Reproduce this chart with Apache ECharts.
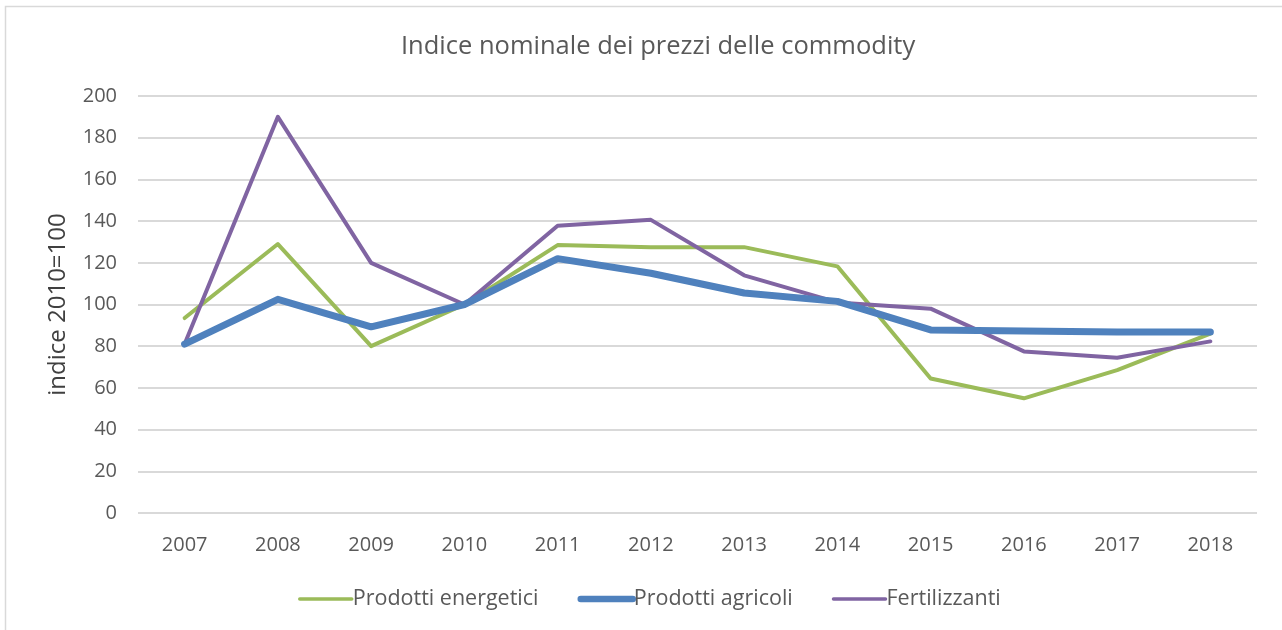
<!DOCTYPE html>
<html>
<head>
<meta charset="utf-8">
<script src="https://cdn.jsdelivr.net/npm/echarts@6/dist/echarts.min.js"></script>
<style>
  html, body { margin: 0; padding: 0; background: #fff; }
  #chart { width: 1282px; height: 630px; }
</style>
</head>
<body>
<div id="chart"></div>
<script>
// anni sull'asse x
const years = ['2007', '2008', '2009', '2010', '2011', '2012', '2013', '2014', '2015', '2016', '2017', '2018'];

// valori (indice 2010=100)
const energetici = [93.5, 129, 80, 100, 128.5, 127.5, 127.5, 118.3, 64.5, 55, 68.5, 86];
const agricoli = [81, 102.5, 89.3, 100, 122, 115, 105.5, 101.5, 87.8, 87.3, 86.8, 86.8];
const fertilizzanti = [81, 190, 120, 100, 137.8, 140.6, 114, 101, 98, 77.5, 74.5, 82.3];

const seriesNames = ['Prodotti energetici', 'Prodotti agricoli', 'Fertilizzanti'];
const seriesColors = ['#9BBB59', '#4F81BD', '#8064A2'];
const seriesWidths = [4, 7, 4];

const chart = echarts.init(document.getElementById('chart'));

const font = '"Open Sans", sans-serif';

const makeSeries = (name, data, i) => ({
  name: name,
  type: 'line',
  data: data,
  symbol: 'none',
  smooth: false,
  z: i === 1 ? 3 : 2,
  itemStyle: { color: seriesColors[i] },
  lineStyle: { color: seriesColors[i], width: seriesWidths[i], join: 'round', cap: 'round' },
});

const option = {
  animation: false,
  backgroundColor: '#fff',
  title: {
    text: 'Indice nominale dei prezzi delle commodity',
    left: 396,
    top: 29,
    textStyle: { fontFamily: font, fontSize: 25.5, fontWeight: 'normal', color: '#595959' },
  },
  grid: { left: 138, right: 25, top: 96, bottom: 117 },
  legend: {
    bottom: 20,
    left: 298,
    padding: 0,
    itemWidth: 52,
    itemHeight: 14,
    itemGap: 39,
    itemStyle: { opacity: 0 },
    textStyle: { fontFamily: font, fontSize: 21.5, color: '#595959', padding: [0, 0, 0, -4] },
    data: seriesNames.map((n, i) => ({
      name: n,
      lineStyle: { width: seriesWidths[i] - 0.5, cap: 'round' },
    })),
  },
  xAxis: {
    type: 'category',
    data: years,
    boundaryGap: true,
    axisLine: { show: false },
    axisTick: { show: false },
    axisLabel: { fontFamily: font, fontSize: 20, color: '#595959', margin: 22 },
  },
  yAxis: {
    type: 'value',
    min: 0,
    max: 200,
    interval: 20,
    name: 'indice 2010=100',
    nameLocation: 'middle',
    nameGap: 68,
    nameRotate: 90,
    nameTextStyle: { fontFamily: font, fontSize: 24, color: '#404040' },
    axisLine: { show: false },
    axisTick: { show: false },
    axisLabel: { fontFamily: font, fontSize: 20, color: '#595959', margin: 21 },
    splitLine: { lineStyle: { color: '#d9d9d9', width: 2 } },
  },
  graphic: [
    {
      type: 'rect',
      shape: { x: 5.5, y: 6.5, width: 1400, height: 800 },
      style: { fill: 'none', stroke: '#d9d9d9', lineWidth: 1.5 },
      silent: true,
    },
  ],
  series: [
    makeSeries(seriesNames[0], energetici, 0),
    makeSeries(seriesNames[1], agricoli, 1),
    makeSeries(seriesNames[2], fertilizzanti, 2),
  ],
};

chart.setOption(option);
</script>
</body>
</html>
